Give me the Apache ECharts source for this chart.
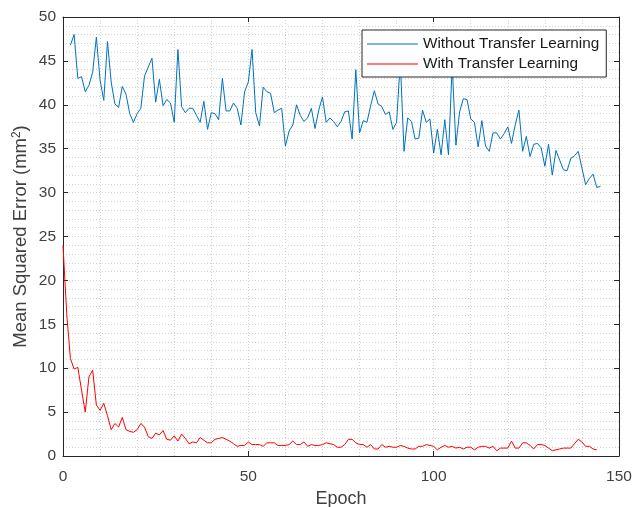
<!DOCTYPE html>
<html>
<head>
<meta charset="utf-8">
<title>MSE per epoch</title>
<script src="https://cdn.jsdelivr.net/npm/echarts@6/dist/echarts.min.js"></script>
<style>
  html, body { margin: 0; padding: 0; background: #fff; }
  #chart { width: 634px; height: 507px; }
</style>
</head>
<body>
<div id="chart"></div>
<script>
// MSE, one value per epoch
const withoutStartEpoch = 2;
const withoutTransfer = [
  46.8, 48.0, 43.0, 43.2, 41.5, 42.2, 43.7, 47.7, 42.8, 40.5,
  47.2, 42.6, 40.1, 39.7, 42.1, 41.2, 39.0, 38.0, 39.0, 39.6,
  43.3, 44.3, 45.3, 40.3, 42.9, 39.9, 40.6, 40.2, 38.0, 46.3,
  39.8, 39.1, 39.6, 39.6, 38.8, 38.0, 40.4, 37.2, 39.1, 39.0,
  38.3, 43.0, 39.3, 39.3, 40.2, 39.6, 37.7, 41.5, 42.6, 46.3,
  39.1, 37.6, 42.0, 41.5, 41.3, 39.1, 39.4, 39.6, 35.3, 37.0,
  37.7, 40.0, 38.8, 38.1, 38.5, 39.6, 37.3, 39.4, 40.9, 38.0,
  38.5, 38.1, 37.5, 38.1, 39.2, 39.3, 36.1, 44.0, 36.8, 38.2,
  38.0, 39.9, 41.6, 40.1, 39.8, 38.9, 39.2, 37.2, 38.0, 45.0,
  34.7, 38.5, 38.1, 36.1, 36.2, 39.4, 38.0, 38.4, 34.5, 37.2,
  34.3, 38.3, 34.3, 44.5, 35.4, 39.2, 40.7, 40.6, 38.4, 38.0,
  35.2, 38.2, 35.3, 34.7, 36.8, 36.8, 36.1, 36.7, 37.5, 35.6,
  37.7, 39.4, 34.7, 36.4, 34.1, 35.5, 35.6, 35.1, 33.0, 35.5,
  32.0, 34.8, 33.7, 32.6, 32.5, 33.9, 34.2, 34.7, 32.8, 30.9,
  31.6, 32.1, 30.6, 30.7
];

const withStartEpoch = 0;
const withTransfer = [
  24.0, 16.2, 11.1, 9.9, 10.1, 7.5, 5.0, 9.0, 9.8, 5.8,
  5.2, 6.0, 4.6, 3.0, 3.7, 3.3, 4.4, 3.0, 2.8, 2.7,
  3.0, 3.7, 3.3, 2.2, 2.0, 2.6, 2.4, 2.9, 1.9, 1.8,
  2.3, 1.7, 2.5, 2.0, 1.4, 1.6, 1.5, 2.1, 1.8, 1.5,
  1.5, 1.9, 2.0, 2.1, 1.9, 1.7, 1.4, 1.1, 1.2, 1.2,
  1.6, 1.3, 1.3, 1.3, 1.1, 1.5, 1.5, 1.5, 1.2, 1.2,
  1.2, 1.3, 1.7, 1.3, 1.3, 1.6, 1.1, 1.3, 1.2, 1.2,
  1.3, 1.5, 1.4, 1.3, 1.0, 1.0, 1.3, 1.9, 1.9, 1.5,
  1.3, 1.3, 1.0, 1.3, 0.8, 0.8, 1.3, 1.0, 1.1, 1.0,
  1.0, 1.2, 1.1, 0.9, 0.8, 0.8, 1.1, 1.1, 1.3, 1.2,
  1.1, 0.7, 1.0, 1.2, 1.0, 1.1, 0.9, 1.0, 0.8, 1.0,
  1.0, 0.7, 1.0, 1.1, 1.1, 0.9, 1.1, 0.6, 0.9, 0.9,
  0.9, 1.7, 0.9, 0.9, 1.5, 1.5, 1.2, 0.8, 1.3, 1.3,
  1.2, 0.9, 0.6, 0.7, 0.8, 0.9, 0.9, 0.9, 1.4, 1.9,
  1.6, 1.1, 1.1, 0.8, 0.7
];

const seriesNames = ['Without Transfer Learning', 'With Transfer Learning'];
const xTicks = { min: 0, max: 150, step: 50 };
const yTicks = { min: 0, max: 50, step: 5 };

const toPairs = (values, start) => values.map((v, i) => [start + i, v]);

const chart = echarts.init(document.getElementById('chart'));

const axisColor = '#262626';
const labelColor = '#404040';
const gridColor = '#d2d2d2';
const font = 'Liberation Sans, Helvetica, Arial, sans-serif';

const baseAxis = {
  type: 'value',
  axisLine: { show: true, onZero: false, lineStyle: { color: axisColor, width: 1 } },
  axisTick: { show: true, inside: true, length: 5, lineStyle: { color: axisColor } },
  minorTick: { show: false, splitNumber: 5 },
  splitLine: { show: true, lineStyle: { color: gridColor, type: [1, 2], width: 1 } },
  minorSplitLine: { show: true, lineStyle: { color: gridColor, type: [1, 2], width: 1 } }
};

const option = {
  animation: false,
  backgroundColor: '#fff',
  grid: { left: 63, right: 15, top: 17, bottom: 51, containLabel: false, outerBoundsMode: 'none' },
  legend: {
    orient: 'vertical',
    left: 362,
    top: 30,
    data: seriesNames,
    icon: 'rect',
    itemWidth: 51,
    itemHeight: 1.2,
    itemGap: 4,
    padding: [6, 7, 5, 5],
    backgroundColor: '#fff',
    borderColor: axisColor,
    borderWidth: 1,
    borderRadius: 0,
    textStyle: { fontFamily: font, fontSize: 15.3, lineHeight: 16, color: '#1a1a1a' }
  },
  xAxis: [
    Object.assign({}, baseAxis, {
      min: xTicks.min, max: xTicks.max, interval: xTicks.step,
      position: 'bottom',
      name: 'Epoch',
      nameLocation: 'middle',
      nameGap: 33,
      nameTextStyle: { fontFamily: font, fontSize: 18, color: labelColor },
      axisLabel: { fontFamily: font, fontSize: 15.5, color: labelColor, margin: 13 }
    }),
    Object.assign({}, baseAxis, {
      min: xTicks.min, max: xTicks.max, interval: xTicks.step,
      position: 'top',
      axisLabel: { show: false },
      splitLine: { show: false },
      minorSplitLine: { show: false }
    })
  ],
  yAxis: [
    Object.assign({}, baseAxis, {
      min: yTicks.min, max: yTicks.max, interval: yTicks.step,
      position: 'left',
      name: 'Mean Squared Error (mm{sup|2})',
      nameLocation: 'middle',
      nameGap: 32,
      nameMoveOverlap: false,
      nameTextStyle: {
        fontFamily: font, fontSize: 18.5, lineHeight: 20, color: labelColor,
        rich: {
          sup: { fontFamily: font, fontSize: 12, verticalAlign: 'top', lineHeight: 12, color: labelColor }
        }
      },
      axisLabel: { fontFamily: font, fontSize: 15.5, color: labelColor, margin: 7 }
    }),
    Object.assign({}, baseAxis, {
      min: yTicks.min, max: yTicks.max, interval: yTicks.step,
      position: 'right',
      axisLabel: { show: false },
      splitLine: { show: false },
      minorSplitLine: { show: false }
    })
  ],
  series: [
    {
      name: seriesNames[0],
      type: 'line',
      data: toPairs(withoutTransfer, withoutStartEpoch),
      showSymbol: false,
      symbol: 'none',
      lineStyle: { color: '#0072BD', width: 1 },
      itemStyle: { color: '#0072BD' },
      z: 3
    },
    {
      name: seriesNames[1],
      type: 'line',
      data: toPairs(withTransfer, withStartEpoch),
      showSymbol: false,
      symbol: 'none',
      lineStyle: { color: '#FF0000', width: 1 },
      itemStyle: { color: '#FF0000' },
      z: 3
    }
  ]
};

chart.setOption(option);
</script>
</body>
</html>
